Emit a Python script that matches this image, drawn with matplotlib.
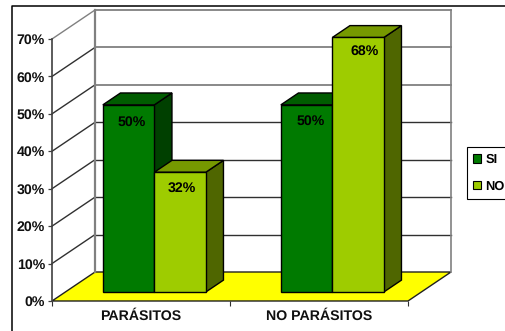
import matplotlib
matplotlib.use("Agg")
import matplotlib.pyplot as plt
from matplotlib.patches import Polygon, Patch

categories = ["PARÁSITOS", "NO PARÁSITOS"]
series_names = ["SI", "NO"]
si_values = [50, 50]
no_values = [32, 68]
y_ticks = [0, 10, 20, 30, 40, 50, 60, 70]

# small label nudges in pixels, per bar (x, y)
si_nudge = [(3, -17), (4.5, -16.5)]
no_nudge = [(1.5, -16), (7, -14)]

W, H = 505, 331
plt.rcParams["font.family"] = ["Liberation Sans", "DejaVu Sans"]
plt.rcParams["font.weight"] = "bold"
plt.rcParams["font.size"] = 10.2
plt.rcParams["text.hinting"] = "none"

# front plane of the chart, the depth is added by project()
fig = plt.figure(figsize=(W / 100, H / 100), dpi=100, facecolor="white")
ax = fig.add_axes([52 / W, (H - 301) / H, 356 / W, 262 / H])
ax.set_xlim(0, 2)
ax.set_ylim(0, 70)
ax.patch.set_visible(False)
for s in ax.spines.values():
    s.set_visible(False)

DX = 43 / 178  # shift of the back wall, in category units
DY = 29 / (262 / 70)  # same in percent
BAR_W = 51.5 / 178
D0, D1 = 0.31, 0.72  # bar depth, front and back


def project(x, y, d):
    return x + d * DX, y + d * DY


def poly(pts, fc, ec="black", lw=1.0, z=3):
    ax.add_patch(Polygon(pts, closed=True, facecolor=fc, edgecolor=ec, linewidth=lw,
                         joinstyle="miter", zorder=z, clip_on=False))


def box(x0, x1, val, front, top, side, z):
    poly([project(x1, 0, D0), project(x1, 0, D1), project(x1, val, D1), project(x1, val, D0)], side, z=z)
    poly([project(x0, val, D0), project(x1, val, D0), project(x1, val, D1), project(x0, val, D1)], top, z=z)
    poly([project(x0, 0, D0), project(x1, 0, D0), project(x1, val, D0), project(x0, val, D0)], front, z=z)


# floor
poly([project(0, 0, 0), project(2, 0, 0), project(2, 0, 1), project(0, 0, 1)], "#ffff00", ec="#202020", lw=1.0, z=1)

# walls and gridlines
for v in y_ticks[1:]:
    color = "#808080" if v == 70 else "#303030"
    ax.plot([project(0, v, 0)[0], project(0, v, 1)[0]], [v, project(0, v, 1)[1]], color=color, lw=1.0, zorder=1, clip_on=False)
    ax.plot([project(0, v, 1)[0], project(2, v, 1)[0]], [project(0, v, 1)[1]] * 2,
            color="#808080" if v >= 50 else "#303030", lw=1.3 if v >= 50 else 1.0, zorder=1, clip_on=False)
for xv in (0, 2):
    ax.plot([project(xv, 0, 1)[0]] * 2, [project(xv, 0, 1)[1], project(xv, 70, 1)[1]],
            color="#808080", lw=1.6 if xv == 0 else 1.2, zorder=1, clip_on=False)

# bars, left group first so its neighbour overlaps it
for i in range(len(categories)):
    cx = i + 0.5
    box(cx - BAR_W, cx, si_values[i], "#007a00", "#005c00", "#004000", 3)
    box(cx, cx + BAR_W, no_values[i], "#9ecc00", "#769900", "#4f6600", 4)
    for x, val, nudge in ((cx - BAR_W / 2, si_values[i], si_nudge[i]), (cx + BAR_W / 2, no_values[i], no_nudge[i])):
        ax.annotate(f"{val}%", xy=project(x, val, D0), xytext=(nudge[0] * 0.72, nudge[1] * 0.72),
                    textcoords="offset points", ha="center", va="center", color="black", zorder=6,
                    annotation_clip=False)

ax.set_xticks([0, 1, 2], ["", "", ""])
ax.set_xticks([0.5, 1.5], categories, minor=True)
ax.tick_params(axis="x", which="major", length=3.5, width=0.8, color="#303030")
ax.tick_params(axis="x", which="minor", length=0, pad=6.5, labelcolor="#101010")
ax.set_yticks(y_ticks, [f"{v}%" for v in y_ticks])
ax.tick_params(axis="y", length=3, width=0.9, color="#404040", pad=2, labelcolor="#101010")
ax.spines["left"].set_visible(True)
ax.spines["left"].set_color("#404040")
ax.spines["left"].set_linewidth(1.2)

# outer frame runs off the right side
fig.add_artist(plt.Line2D([11.5 / W, 11.5 / W, 1], [0, (H - 6) / H, (H - 6) / H], color="black", lw=1.1))

handles = [Patch(facecolor="#007a00", edgecolor="black", lw=0.8), Patch(facecolor="#9ecc00", edgecolor="black", lw=0.8)]
leg = fig.legend(handles, series_names, loc="upper left", bbox_to_anchor=(467 / W, (H - 147) / H), bbox_transform=fig.transFigure,
                 frameon=True, fancybox=False, edgecolor="black", framealpha=1, borderaxespad=0, borderpad=0.5,
                 handlelength=0.62, handleheight=0.62, handletextpad=0.3, labelspacing=1.15, ncols=1, fontsize=9.3)
leg.get_frame().set_linewidth(0.8)

fig.savefig("out.png", dpi=100)
